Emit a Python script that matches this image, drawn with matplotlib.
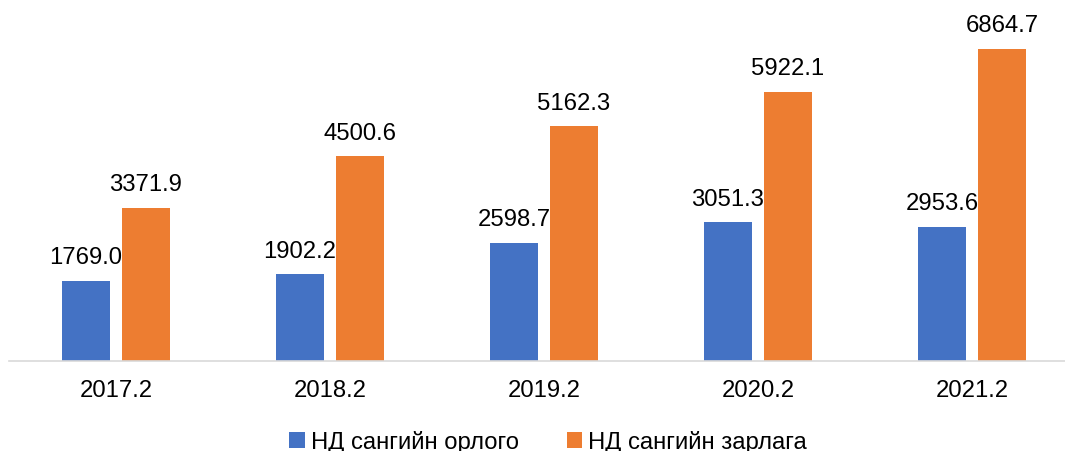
import numpy as np
import matplotlib.pyplot as plt

plt.rcParams['font.family'] = ['Liberation Sans', 'DejaVu Sans']

periods = ['2017.2', '2018.2', '2019.2', '2020.2', '2021.2']
income = [1769.0, 1902.2, 2598.7, 3051.3, 2953.6]
expense = [3371.9, 4500.6, 5162.3, 5922.1, 6864.7]
names = ['НД сангийн орлого', 'НД сангийн зарлага']
colors = ['#4472C4', '#ED7D31']

W, H = 1065, 452
fig = plt.figure(figsize=(W / 100, H / 100), dpi=100)
ax = fig.add_axes([9 / W, 1 - 362 / H, 1 - 9 / W, 362 / H])

x = np.arange(len(periods))
bw = 0.224
off = 0.14
b1 = ax.bar(x - off, income, bw, color=colors[0], label=names[0])
b2 = ax.bar(x + off, expense, bw, color=colors[1], label=names[1])

fs = 17.2
for bars, vals in ((b1, income), (b2, expense)):
  for r, v in zip(bars, vals):
    ax.annotate('%.1f' % v, (r.get_x() + r.get_width() / 2, v),
                xytext=(0, 9), textcoords='offset points',
                ha='center', va='bottom', fontsize=fs, color='#000000')

ax.set_xlim(-0.5, 4.435)
ax.set_ylim(0, 7960)
ax.set_xticks(x)
ax.set_xticklabels(periods, fontsize=fs)
ax.tick_params(axis='x', length=0, pad=13)
ax.set_yticks([])
for s in ['top', 'right', 'left']:
  ax.spines[s].set_visible(False)
ax.spines['bottom'].set_color('#D9D9D9')
ax.spines['bottom'].set_linewidth(1.2)

fig.legend(loc='center', bbox_to_anchor=(548 / W, 1 - 443 / H), ncol=2,
           frameon=False, fontsize=fs, handlelength=0.65, handleheight=0.65,
           handletextpad=0.25, columnspacing=2.0)

fig.savefig('out.png', dpi=100)
